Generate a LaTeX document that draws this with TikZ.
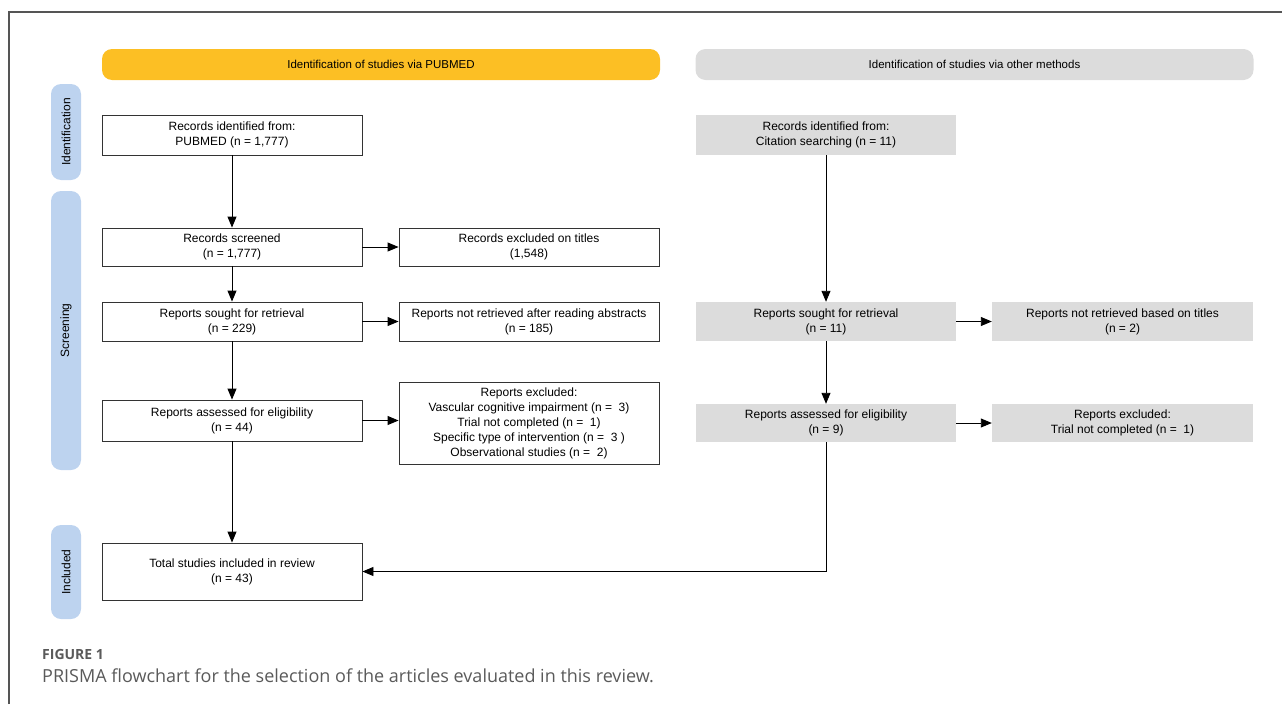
\documentclass[tikz,border=0pt]{standalone}
\usepackage{fontspec}
\setmainfont{Liberation Sans}
\newfontfamily\capfont{Open Sans}
\usetikzlibrary{arrows.meta}
\definecolor{hdryellow}{HTML}{FCBF24}
\definecolor{hdrgray}{HTML}{DCDCDC}
\definecolor{sideblue}{HTML}{BDD3EF}
\definecolor{boxgray}{HTML}{DCDCDC}
\definecolor{framegray}{HTML}{555555}
\definecolor{capgray}{HTML}{5A5A5A}
\tikzset{
  wbox/.style={draw=black!80, line width=0.9pt, minimum width=260pt, inner sep=0pt, align=center,
    font=\fontsize{12}{15}\selectfont},
  gbox/.style={fill=boxgray, minimum width=260pt, inner sep=0pt, align=center,
    font=\fontsize{12}{15}\selectfont},
  hdr/.style={rounded corners=10pt, minimum width=558pt, minimum height=31pt, inner sep=0pt,
    font=\fontsize{11.5}{14}\selectfont},
  side/.style={fill=sideblue, rounded corners=10pt, rotate=90, minimum height=30pt, inner sep=0pt,
    font=\fontsize{12}{14}\selectfont},
  arr/.style={line width=0.9pt, -{Triangle[length=11pt,width=9pt]}},
}
\begin{document}
\begin{tikzpicture}[x=1pt,y=-1pt]
\useasboundingbox (0,0) rectangle (1282,704);
% frame
\draw[framegray, line width=1.3pt] (9,704) -- (9,12) -- (1282,12);
% headers
\node[hdr, fill=hdryellow] (h1) at (381,64.5) {Identification of studies via PUBMED};
\node[hdr, fill=hdrgray] (h2) at (974.5,64.5) {Identification of studies via other methods};
% side labels
\node[side, minimum width=96pt] (s1) at (66,132) {Identification};
\node[side, minimum width=279pt] (s2) at (66,330.5) {Screening};
\node[side, minimum width=94pt] (s3) at (66,572) {Included};
% left column
\node[wbox, minimum height=40pt] (b1) at (232,135) {Records identified from:\\PUBMED (n = 1,777)};
\node[wbox, minimum height=38pt] (b2) at (232,247) {Records screened\\(n = 1,777)};
\node[wbox, minimum height=38pt] (b3) at (529,247) {Records excluded on titles\\(1,548)};
\node[wbox, minimum height=39pt] (b4) at (232,321.5) {Reports sought for retrieval\\(n = 229)};
\node[wbox, minimum height=39pt] (b5) at (529,321.5) {Reports not retrieved after reading abstracts\\(n = 185)};
\node[wbox, minimum height=41pt] (b6) at (232,420.5) {Reports assessed for eligibility\\(n = 44)};
\node[wbox, minimum height=82pt] (b7) at (529,423) {Reports excluded:\\Vascular cognitive impairment (n = \ 3)\\Trial not completed (n = \ 1)\\Specific type of intervention (n = \ 3 )\\Observational studies (n = \ 2)};
\node[wbox, minimum height=57pt] (b8) at (232,571.5) {Total studies included in review\\(n = 43)};
% right column
\node[gbox, minimum height=40pt] (r1) at (826,135) {Records identified from:\\Citation searching (n = 11)};
\node[gbox, minimum height=39pt] (r2) at (826,321.5) {Reports sought for retrieval\\(n = 11)};
\node[gbox, minimum height=39pt, minimum width=261pt] (r2x) at (1122.5,321.5) {Reports not retrieved based on titles\\(n = 2)};
\node[gbox, minimum height=38pt] (r3) at (826,423) {Reports assessed for eligibility\\(n = 9)};
\node[gbox, minimum height=38pt, minimum width=261pt] (r3x) at (1122.5,423) {Reports excluded:\\Trial not completed (n = \ 1)};
% arrows
\draw[arr] (b1) -- (b2);
\draw[arr] (b2) -- (b4);
\draw[arr] (b4) -- (b6);
\draw[arr] (b6) -- (b8);
\draw[arr] (b2) -- (b3);
\draw[arr] (b4) -- (b5);
\draw[arr] (b6.east) -- (b6.east -| b7.west);
\draw[arr] (r1) -- (r2);
\draw[arr] (r2) -- (r3);
\draw[arr] (r2) -- (r2x);
\draw[arr] (r3) -- (r3x);
\draw[arr] (r3.south) |- (b8.east);
% caption
\node[anchor=base west, text=capgray, inner sep=0pt, font=\capfont\bfseries\fontsize{14}{16}\selectfont] (fig) at (42,659) {FIGURE 1};
\node[anchor=base west, text=capgray, inner sep=0pt, font=\capfont\fontsize{18}{21}\selectfont] (cap) at (42,682) {PRISMA flowchart for the selection of the articles evaluated in this review.};
\end{tikzpicture}
\end{document}
